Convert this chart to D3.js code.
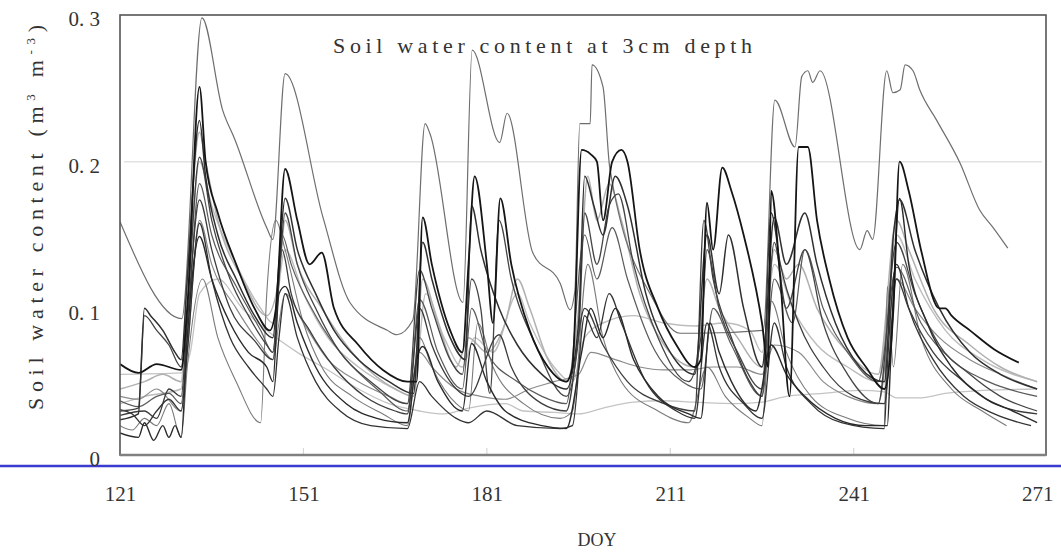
<!DOCTYPE html>
<html>
<head>
<meta charset="utf-8">
<script src="https://cdn.jsdelivr.net/npm/d3@7"></script>
<style>
  html, body { margin: 0; padding: 0; background: #fff; }
  svg { display: block; }
  text { font-family: "Liberation Serif", "DejaVu Serif", serif; fill: #333; }
</style>
</head>
<body>
<svg id="chart" width="1061" height="556"></svg>
<script>
// Soil water content at 3 cm depth, one polyline per site: [DOY, m3/m3]
const siteA = [[121,0.159],[131.1,0.093],[134.4,0.298],[137.8,0.235],[139.8,0.215],[145,0.155],[146,0.147],[148,0.26],[154.2,0.162],[158.6,0.104],[164.7,0.085],[166.3,0.082],[168.9,0.092],[170.9,0.226],[171.7,0.219],[177.1,0.104],[178.6,0.276],[183.1,0.213],[184.3,0.233],[188.5,0.138],[193,0.117],[194.6,0.099],[195.4,0.112],[196.2,0.226],[197.9,0.226],[198.2,0.266],[200,0.251],[201.1,0.196],[208.2,0.106],[212.6,0.083],[215.4,0.083],[226.2,0.085],[228.1,0.242],[231.4,0.21],[232.5,0.258],[233.5,0.262],[234.3,0.254],[235.5,0.262],[242,0.14],[243.2,0.153],[244.1,0.147],[246.4,0.262],[247.4,0.247],[248.6,0.249],[249.4,0.266],[250.7,0.262],[251.8,0.249],[254.6,0.228],[258.4,0.199],[261.6,0.167],[263.8,0.155],[266.2,0.141]];
const siteB = [[121,0.055],[131,0.056],[132.5,0.07],[134,0.11],[137,0.12],[141,0.1],[145,0.085],[150,0.07],[155,0.058],[160,0.045],[165,0.035],[170,0.03],[174,0.028],[178,0.032],[184,0.035],[187,0.03],[192,0.029],[196,0.028],[200,0.032],[205,0.036],[210,0.037],[215,0.036],[222,0.035],[226,0.036],[230,0.04],[236,0.042],[242,0.044],[246,0.043],[248,0.039],[252,0.039],[256,0.042],[262,0.044],[271,0.045]];
const site1 = [[121,0.062],[124,0.056],[127,0.062],[131,0.058],[132,0.1],[134,0.251],[135,0.2],[137,0.165],[140,0.13],[143,0.1],[145.5,0.085],[146.5,0.1],[148,0.195],[150,0.16],[152,0.13],[154,0.138],[156,0.1],[160,0.075],[164,0.058],[168,0.05],[169.5,0.05],[170.5,0.162],[172,0.13],[175,0.085],[177,0.07],[178,0.13],[179,0.19],[181,0.13],[182,0.09],[183.2,0.175],[185,0.13],[188,0.085],[191,0.06],[194,0.05],[195,0.06],[196.5,0.208],[198,0.205],[199,0.2],[200,0.16],[201.5,0.2],[203,0.208],[204,0.2],[206,0.14],[209,0.1],[212,0.075],[215,0.06],[216,0.065],[217,0.172],[218,0.14],[219.5,0.196],[221,0.18],[223,0.15],[226,0.09],[227,0.06],[227.5,0.18],[229,0.12],[230.5,0.04],[232,0.21],[233.5,0.21],[235,0.16],[237,0.12],[240,0.08],[243,0.06],[246,0.045],[247.5,0.1],[248.5,0.2],[250,0.18],[252,0.14],[255,0.1],[256,0.1],[257,0.095],[260,0.085],[264,0.072],[268,0.063]];
const site2 = [[121,0.024],[124,0.028],[125,0.1],[126,0.095],[128,0.085],[130,0.07],[131,0.065],[132,0.12],[134,0.228],[135,0.19],[137,0.15],[140,0.12],[143,0.095],[146,0.08],[147,0.13],[148,0.175],[150,0.14],[153,0.11],[156,0.085],[160,0.065],[165,0.05],[169,0.042],[170.5,0.145],[172,0.12],[175,0.08],[177.5,0.065],[178.5,0.17],[180,0.14],[183,0.1],[186,0.075],[190,0.055],[194,0.045],[196,0.09],[197,0.19],[198.5,0.17],[200,0.15],[202,0.19],[204,0.17],[207,0.11],[211,0.07],[215,0.055],[217,0.15],[219,0.11],[220.5,0.15],[223,0.1],[226,0.06],[228,0.162],[230,0.13],[233,0.165],[235,0.13],[238,0.09],[242,0.06],[246,0.05],[247.5,0.15],[248.5,0.174],[251,0.14],[255,0.1],[260,0.07],[265,0.055],[271,0.045]];
const site3 = [[121,0.03],[124,0.032],[125,0.095],[127,0.085],[129,0.075],[131,0.06],[132,0.1],[134,0.203],[136,0.16],[139,0.12],[142,0.095],[145,0.075],[146,0.07],[147,0.12],[148,0.165],[150,0.13],[153,0.1],[157,0.07],[162,0.05],[168,0.035],[170,0.126],[172,0.1],[175,0.065],[177,0.055],[178.5,0.12],[180,0.1],[181.5,0.042],[183,0.16],[185,0.12],[189,0.075],[194,0.04],[196,0.08],[197,0.165],[199,0.13],[201,0.17],[202.5,0.178],[205,0.13],[209,0.08],[214,0.05],[216,0.08],[217,0.14],[219,0.1],[222,0.07],[226,0.045],[228,0.145],[230,0.1],[233,0.14],[236,0.09],[240,0.055],[245,0.035],[248,0.145],[251,0.11],[255,0.075],[260,0.055],[265,0.04],[271,0.03]];
const site4 = [[121,0.037],[124,0.033],[127,0.04],[129,0.042],[131,0.035],[132,0.08],[134,0.185],[136,0.15],[140,0.115],[144,0.085],[146,0.07],[147.5,0.15],[149,0.13],[153,0.095],[158,0.065],[163,0.045],[168,0.03],[170,0.106],[173,0.07],[177,0.045],[178.5,0.1],[181,0.07],[186,0.05],[190,0.04],[194,0.035],[197,0.15],[199,0.12],[201.5,0.155],[204,0.12],[208,0.075],[213,0.05],[216,0.045],[218,0.1],[221,0.075],[226,0.04],[228,0.12],[231,0.09],[233,0.14],[236,0.1],[240,0.07],[245,0.05],[248,0.128],[252,0.09],[257,0.065],[263,0.05],[271,0.04]];
const site5 = [[121,0.045],[125,0.05],[128,0.055],[131,0.05],[132,0.12],[134,0.22],[135,0.2],[137,0.16],[141,0.12],[145,0.095],[147,0.12],[148,0.16],[150,0.13],[154,0.1],[160,0.065],[166,0.045],[169,0.04],[170.5,0.12],[173,0.09],[176,0.06],[178,0.08],[181,0.07],[184,0.09],[186,0.12],[188,0.1],[191,0.065],[194,0.05],[196,0.1],[197.5,0.19],[199,0.16],[201,0.185],[203,0.16],[206,0.11],[210,0.075],[215,0.06],[217,0.12],[219,0.1],[222,0.08],[226,0.06],[228,0.14],[230,0.12],[232,0.13],[235,0.1],[240,0.07],[245,0.055],[248,0.16],[250,0.14],[254,0.1],[260,0.075],[265,0.06],[271,0.05]];
const site6 = [[121,0.02],[123,0.017],[125,0.025],[127,0.02],[129,0.035],[131,0.012],[132,0.06],[134.5,0.12],[137,0.08],[140,0.05],[144,0.022],[145,0.11],[146.5,0.16],[148,0.14],[151,0.09],[154,0.06],[159,0.04],[164,0.028],[168,0.02],[170,0.08],[172,0.06],[176,0.035],[178,0.03],[179.5,0.09],[182,0.06],[187,0.035],[193,0.025],[195,0.03],[197.5,0.13],[200,0.08],[203,0.05],[209,0.03],[214,0.022],[217,0.06],[220,0.04],[224,0.025],[226,0.02],[227.5,0.105],[230,0.07],[234,0.04],[240,0.025],[246,0.02],[246.5,0.115],[247.5,0.06],[249,0.13],[252,0.08],[257,0.045],[262,0.03],[266,0.02]];
const site7 = [[121,0.015],[124,0.012],[125,0.022],[126.5,0.01],[128,0.02],[129,0.012],[130,0.02],[131,0.012],[132,0.08],[134,0.149],[136,0.12],[139,0.09],[142,0.07],[145,0.06],[146,0.05],[147,0.11],[148,0.115],[150,0.09],[153,0.06],[158,0.035],[163,0.025],[168,0.022],[169.5,0.065],[170.5,0.074],[173,0.05],[177,0.03],[178.5,0.076],[181,0.05],[184,0.03],[190,0.02],[194,0.018],[196.5,0.07],[198,0.1],[200,0.08],[202,0.1],[205,0.065],[209,0.04],[214,0.028],[216,0.025],[217.5,0.09],[219,0.07],[221,0.05],[225,0.03],[227.5,0.075],[230,0.055],[233,0.04],[238,0.025],[243,0.02],[246.5,0.02],[247,0.06],[248.5,0.175],[250,0.13],[253,0.09],[257,0.06],[262,0.04],[267,0.03],[271,0.022]];
const site8 = [[121,0.027],[125,0.03],[127,0.025],[129,0.045],[131,0.04],[132,0.09],[134,0.174],[136,0.14],[139,0.1],[143,0.078],[146,0.065],[147.5,0.14],[149,0.11],[152,0.085],[156,0.06],[161,0.04],[166,0.03],[168,0.028],[170,0.1],[172,0.075],[176,0.045],[178,0.04],[183,0.082],[185,0.06],[190,0.035],[194,0.03],[197,0.1],[200,0.075],[204,0.05],[210,0.035],[215,0.03],[216.5,0.16],[218,0.12],[221,0.08],[224,0.05],[226,0.04],[227.5,0.165],[229,0.13],[232,0.09],[236,0.06],[241,0.04],[246,0.035],[248,0.12],[250,0.1],[254,0.07],[259,0.05],[264,0.035],[271,0.028]];
const site9 = [[121,0.04],[124,0.038],[127,0.045],[131,0.03],[132,0.07],[134,0.16],[136,0.13],[140,0.1],[144,0.075],[146,0.065],[147,0.09],[148,0.11],[151,0.09],[155,0.065],[160,0.05],[165,0.04],[168,0.035],[170,0.07],[172,0.06],[176,0.045],[180,0.04],[184,0.038],[188,0.045],[192,0.05],[196,0.055],[198,0.07],[202,0.065],[206,0.06],[210,0.058],[214,0.058],[218,0.06],[222,0.06],[226,0.055],[228,0.075],[232,0.07],[236,0.05],[240,0.04],[245,0.035],[248,0.12],[251,0.1],[255,0.08],[260,0.065],[265,0.055],[271,0.045]];
const site10 = [[121,0.035],[125,0.04],[131,0.045],[132,0.1],[134,0.2],[136,0.17],[140,0.13],[144,0.1],[146,0.09],[148,0.14],[151,0.11],[155,0.08],[160,0.06],[166,0.045],[169,0.04],[171,0.11],[174,0.08],[177,0.06],[179,0.08],[182,0.07],[186,0.11],[188,0.09],[192,0.06],[195,0.05],[197,0.08],[200,0.09],[205,0.095],[210,0.09],[215,0.088],[220,0.09],[224,0.085],[226,0.07],[228,0.13],[231,0.1],[235,0.075],[240,0.06],[245,0.05],[248,0.15],[251,0.12],[256,0.085],[262,0.065],[271,0.05]];
const site11 = [[121,0.031],[123,0.028],[125,0.02],[127,0.03],[129,0.038],[131,0.03],[132,0.07],[134,0.158],[136,0.12],[139,0.08],[142,0.06],[145,0.045],[146,0.04],[147,0.08],[148,0.11],[150,0.08],[153,0.05],[157,0.03],[162,0.02],[168,0.018],[170,0.05],[172,0.04],[176,0.025],[178,0.022],[181,0.03],[186,0.02],[193,0.018],[195,0.02],[197,0.095],[199,0.08],[201,0.11],[203,0.09],[207,0.05],[212,0.03],[215,0.025],[217,0.09],[219,0.06],[223,0.035],[226,0.025],[228,0.09],[230,0.06],[234,0.035],[239,0.022],[246,0.018],[246.5,0.06],[248,0.13],[250,0.1],[254,0.065],[259,0.04],[264,0.028],[270,0.02]];

const seriesList = [siteB, site10, site5, site9, siteA, site6, site4, site8, site11, site3, site7, site2, site1];
const seriesColors = ["#c4c4c4", "#bdbdbd", "#b0b0b0", "#8a8a8a", "#6e6e6e", "#7a7a7a", "#5a5a5a", "#3c3c3c", "#333", "#444", "#2a2a2a", "#303030", "#151515"];
const seriesWidths = [1.3, 1.4, 1.5, 1.2, 1.2, 1.1, 1.2, 1.3, 1.3, 1.3, 1.4, 1.5, 1.8];

const xTickValues = [121, 151, 181, 211, 241, 271];
const yTickValues = [0, 0.1, 0.2, 0.3];
const yTickLabels = ["0", "0. 1", "0. 2", "0. 3"];
const chartTitle = "Soil water content at 3cm depth";
const xTitle = "DOY";

const svg = d3.select("#chart");
const plot = { left: 120, right: 1046, top: 15, bottom: 455 };

const x = d3.scaleLinear().domain([121, 272.45]).range([plot.left, plot.right]);
const y = d3.scaleLinear().domain([0, 0.3]).range([plot.bottom, plot.top]);

svg.append("defs").append("clipPath").attr("id", "plotClip")
  .append("rect")
  .attr("x", plot.left).attr("y", plot.top)
  .attr("width", plot.right - plot.left).attr("height", plot.bottom - plot.top);

// horizontal reference line at 0.2
svg.append("line")
  .attr("x1", plot.left + 4).attr("x2", plot.right - 4)
  .attr("y1", y(0.2)).attr("y2", y(0.2))
  .attr("stroke", "#e2e2e2").attr("stroke-width", 1.5);

// faint inner ticks along the bottom
svg.append("g").selectAll("line").data(xTickValues.slice(1, -1)).join("line")
  .attr("x1", d => x(d)).attr("x2", d => x(d))
  .attr("y1", plot.bottom - 7).attr("y2", plot.bottom)
  .attr("stroke", "#d8d8d8").attr("stroke-width", 1.2);

const line = d3.line().x(d => x(d[0])).y(d => y(d[1])).curve(d3.curveMonotoneX);

svg.append("g").attr("clip-path", "url(#plotClip)")
  .selectAll("path").data(seriesList).join("path")
  .attr("d", line)
  .attr("fill", "none")
  .attr("stroke", (d, i) => seriesColors[i])
  .attr("stroke-width", (d, i) => seriesWidths[i])
  .attr("stroke-linejoin", "round");

// plot frame
svg.append("rect")
  .attr("x", plot.left).attr("y", plot.top)
  .attr("width", plot.right - plot.left).attr("height", plot.bottom - plot.top)
  .attr("fill", "none").attr("stroke", "#555").attr("stroke-width", 1.6);
svg.append("line")
  .attr("x1", plot.left).attr("x2", plot.right)
  .attr("y1", plot.bottom).attr("y2", plot.bottom)
  .attr("stroke", "#808080").attr("stroke-width", 2.6);

// blue base rule across the page
svg.append("line")
  .attr("x1", 0).attr("x2", 1061)
  .attr("y1", 466).attr("y2", 466)
  .attr("stroke", "#3b3bd0").attr("stroke-width", 2.5);

// y axis labels
const yAxis = d3.axisLeft(y).tickValues(yTickValues)
  .tickFormat((d, i) => yTickLabels[i]).tickSize(0).tickPadding(0);
const gy = svg.append("g").attr("transform", "translate(100,4)").call(yAxis);
gy.select(".domain").remove();
gy.selectAll("text").attr("font-family", "Liberation Serif, serif")
  .attr("font-size", 21).attr("fill", "#444");

// x axis labels
const xAxis = d3.axisBottom(x).tickValues(xTickValues).tickSize(0).tickPadding(0);
const gx = svg.append("g").attr("transform", "translate(0,486)").call(xAxis);
gx.select(".domain").remove();
gx.selectAll("text").attr("font-family", "Liberation Serif, serif")
  .attr("font-size", 21).attr("fill", "#444");

// chart title inside the frame
svg.append("text")
  .attr("x", 333).attr("y", 53)
  .attr("font-size", 22)
  .attr("textLength", 419).attr("lengthAdjust", "spacing")
  .attr("fill", "#444")
  .text(chartTitle);

// x axis title
svg.append("text")
  .attr("x", 597).attr("y", 546)
  .attr("text-anchor", "middle")
  .attr("font-size", 18).attr("fill", "#444")
  .text(xTitle);

// y axis title with superscripts
const yt = svg.append("text")
  .attr("transform", "translate(43,410) rotate(-90)")
  .attr("font-size", 22).attr("fill", "#555")
  .attr("textLength", 385).attr("lengthAdjust", "spacing");
yt.append("tspan").text("Soil water content (m");
yt.append("tspan").attr("font-size", 13).attr("dy", -8).text("3");
yt.append("tspan").attr("dy", 8).text(" m");
yt.append("tspan").attr("font-size", 13).attr("dy", -8).text("-3");
yt.append("tspan").attr("dy", 8).text(")");
</script>
</body>
</html>
